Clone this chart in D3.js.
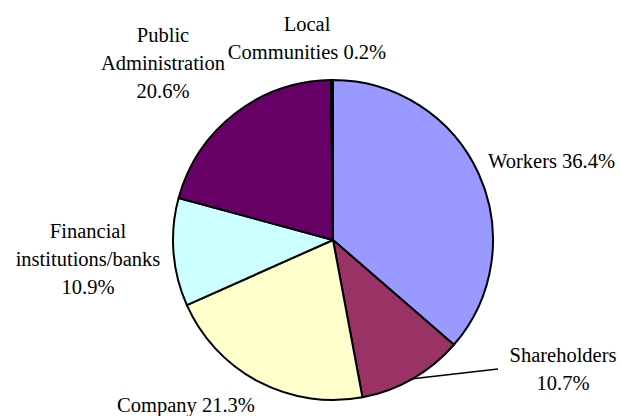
<!DOCTYPE html>
<html><head><meta charset="utf-8">
<script src="https://cdn.jsdelivr.net/npm/d3@7"></script>
<style>body{margin:0;background:#fff}svg{display:block}</style>
</head><body>
<script>
const categories = ["Workers", "Shareholders", "Company", "Financial institutions/banks", "Public Administration", "Local Communities"];
const values = [36.4, 10.7, 21.3, 10.9, 20.6, 0.2];
const colors = ["#9999FF", "#993366", "#FFFFCC", "#CCFFFF", "#660066", "#FF8080"];
const labelLines = [
  ["Workers 36.4%"],
  ["Shareholders", "10.7%"],
  ["Company 21.3%"],
  ["Financial", "institutions/banks", "10.9%"],
  ["Public", "Administration", "20.6%"],
  ["Local", "Communities 0.2%"]
];
const labelPos = [
  {x: 488, y: 168, anchor: "start"},
  {x: 563, y: 362, anchor: "middle"},
  {x: 186, y: 412, anchor: "middle"},
  {x: 88, y: 238, anchor: "middle"},
  {x: 163, y: 42, anchor: "middle"},
  {x: 307, y: 31, anchor: "middle"}
];

const W = 621, H = 416, cx = 333, cy = 240, R = 160;
const svg = d3.select("body").append("svg").attr("width", W).attr("height", H);
const data = categories.map((c, i) => ({name: c, value: values[i], color: colors[i], i}));
const pie = d3.pie().value(d => d.value).sort(null);
const arc = d3.arc().innerRadius(0).outerRadius(R);
const arcs = pie(data);
const g = svg.append("g").attr("transform", `translate(${cx},${cy})`);
g.selectAll("path").data(arcs).join("path")
  .attr("d", arc)
  .attr("fill", d => d.data.color)
  .attr("stroke", "#000")
  .attr("stroke-width", 2)
  .attr("stroke-linejoin", "round");

// leader line for Shareholders
const sh = arcs[1];
const mid = (sh.startAngle + sh.endAngle) / 2;
svg.append("line")
  .attr("x1", cx + R * Math.sin(mid)).attr("y1", cy - R * Math.cos(mid))
  .attr("x2", 498).attr("y2", 369)
  .attr("stroke", "#000").attr("stroke-width", 1.5);

const lineH = 28;
labelLines.forEach((lines, i) => {
  const t = svg.append("text")
    .style("font-family", '"Liberation Serif"')
    .style("font-size", "20.5px")
    .style("fill", "#000")
    .attr("text-anchor", labelPos[i].anchor);
  lines.forEach((l, j) => {
    t.append("tspan").attr("x", labelPos[i].x).attr("y", labelPos[i].y + j * lineH).text(l);
  });
});
</script>
</body></html>
